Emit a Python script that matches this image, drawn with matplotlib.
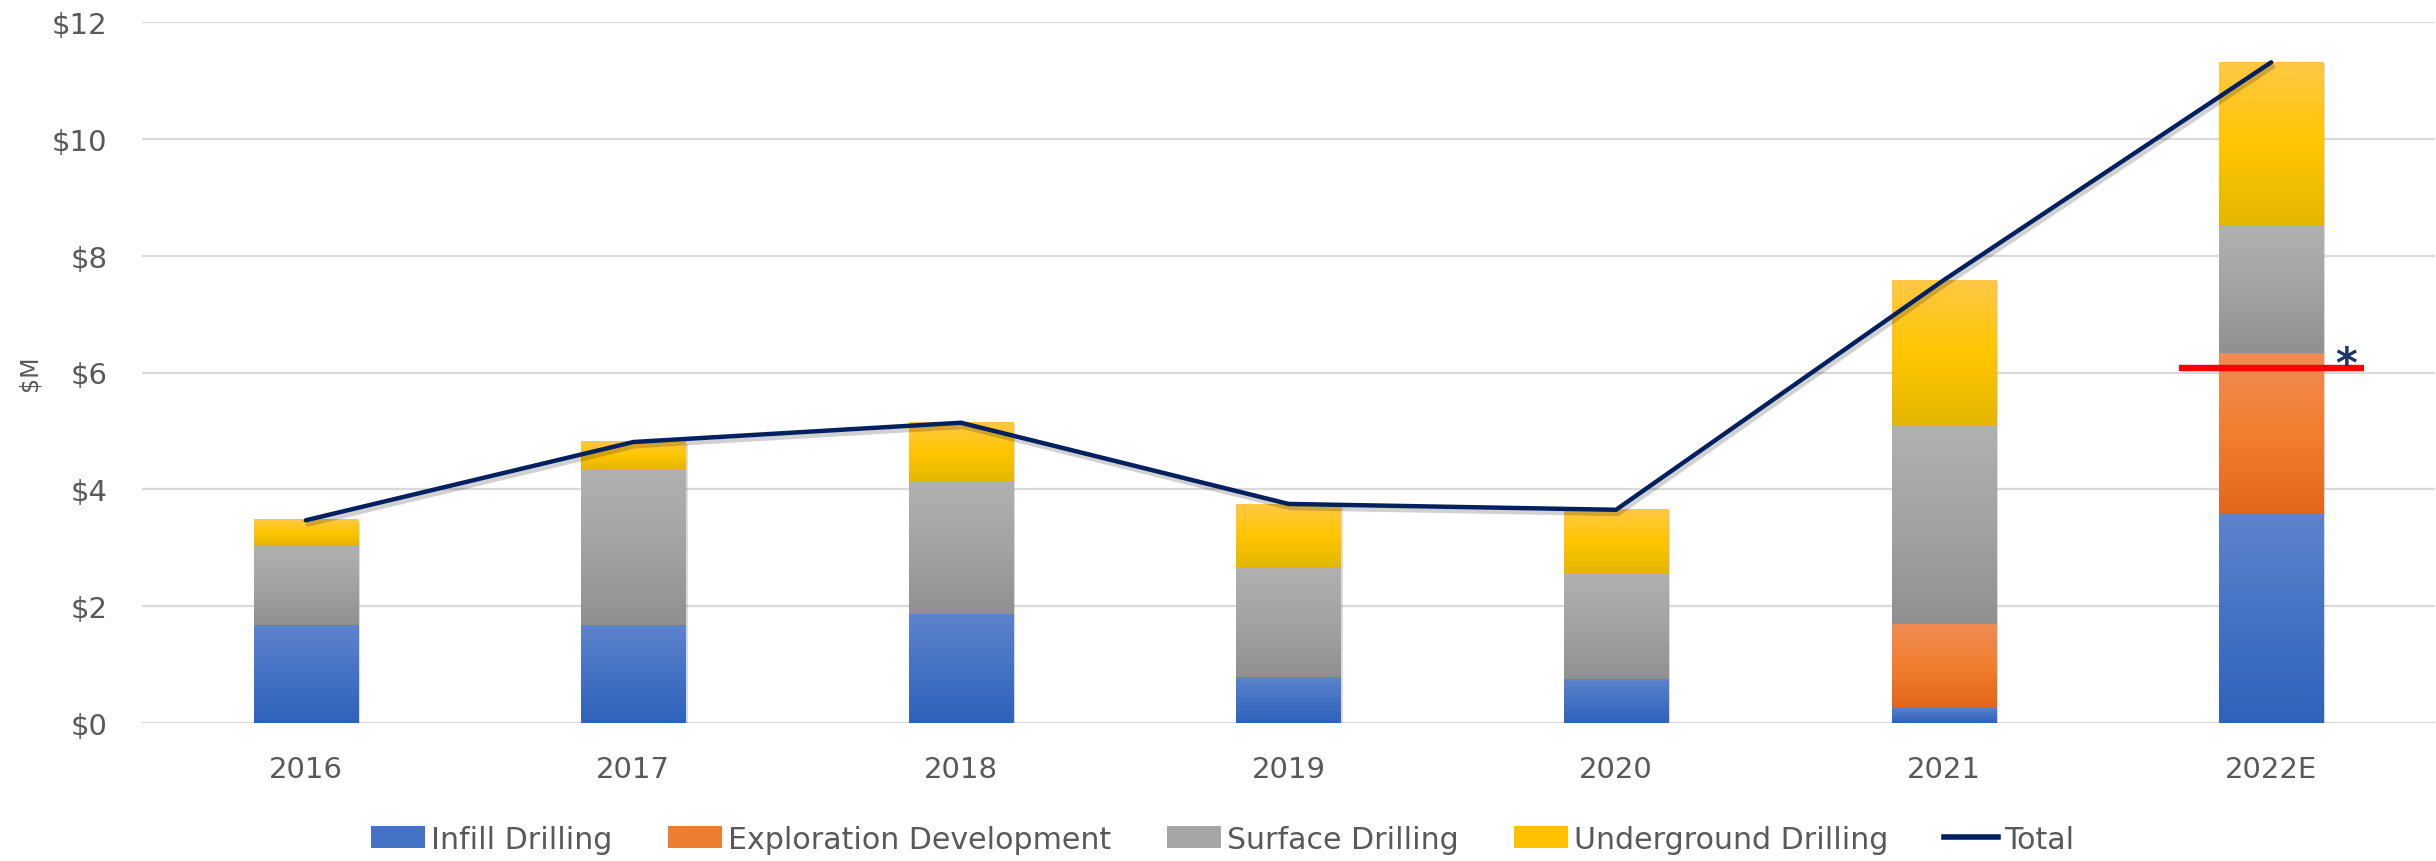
import numpy as np
import matplotlib
matplotlib.use("Agg")
import matplotlib.pyplot as plt
import matplotlib.patheffects as pe
from matplotlib.colors import LinearSegmentedColormap
from matplotlib.patches import Patch
from matplotlib.lines import Line2D

# ---- data ----
years = ["2016", "2017", "2018", "2019", "2020", "2021", "2022E"]
infill = [1.67, 1.68, 1.87, 0.79, 0.76, 0.27, 3.58]
exploration = [0.0, 0.0, 0.0, 0.0, 0.0, 1.42, 2.75]
surface = [1.37, 2.66, 2.26, 1.88, 1.81, 3.41, 2.18]
underground = [0.43, 0.47, 1.01, 1.07, 1.09, 2.48, 2.80]
total = [3.47, 4.81, 5.14, 3.75, 3.65, 7.58, 11.31]
series_names = ["Infill Drilling", "Exploration Development", "Surface Drilling",
                "Underground Drilling", "Total"]
ytick_vals = [0, 2, 4, 6, 8, 10, 12]
ytick_labels = [r"\$0", r"\$2", r"\$4", r"\$6", r"\$8", r"\$10", r"\$12"]
target_year_idx = 6
target_value = 6.08

# ---- style ----
TXT = "#595959"
NAVY = "#002060"
grads = {
    "blue": ["#2F62BC", "#4472C4", "#5E84CC"],
    "orange": ["#E2661A", "#F27E2F", "#F08C55"],
    "gray": ["#909090", "#A3A3A3", "#B1B1B1"],
    "yellow": ["#E4B600", "#FFC600", "#FFC845"],
}
solid = {"blue": "#4472C4", "orange": "#ED7D31", "gray": "#A5A5A5", "yellow": "#FFC000"}

fig = plt.figure(figsize=(24.36, 8.62), dpi=100)
ax = fig.add_axes([142 / 2436, 1 - 724 / 862, (2435 - 142) / 2436, (724 - 23) / 862])

x = np.arange(len(years))
width = 0.318
bottoms = np.zeros(len(years))
stack = [(infill, "blue"), (exploration, "orange"), (surface, "gray"), (underground, "yellow")]
grad_col = np.linspace(0, 1, 256).reshape(-1, 1)
for vals, key in stack:
    bars = ax.bar(x, vals, width, bottom=bottoms, color="none", zorder=1.9,
                  linewidth=0)
    cmap = LinearSegmentedColormap.from_list(key, grads[key])
    for p in bars:
        h = p.get_height()
        if h <= 0:
            continue
        x0, y0, w = p.get_x(), p.get_y(), p.get_width()
        ax.imshow(grad_col, cmap=cmap, extent=(x0, x0 + w, y0, y0 + h),
                  origin="lower", aspect="auto", zorder=2, interpolation="bilinear")
    bottoms = bottoms + np.array(vals)

# soft shadow behind each full stack
ax.bar(x, bottoms, width, color="#c8c8c8", zorder=1.5, linewidth=0,
       path_effects=[pe.SimplePatchShadow(offset=(1.5, -1.5),
                                          shadow_rgbFace="#999999", alpha=0.35),
                     pe.Normal()])

# total line
ax.plot(x, total, color=NAVY, lw=3.2, zorder=4, solid_capstyle="round",
        solid_joinstyle="miter",
        path_effects=[pe.SimpleLineShadow(offset=(1.5, -3), alpha=0.18), pe.Normal()])

# red target marker and asterisk for 2022E
ax.plot([target_year_idx - 0.283, target_year_idx + 0.282], [target_value, target_value],
        color="#FF0000", lw=4.6, zorder=5, solid_capstyle="butt")
ax.text(target_year_idx + 0.228, 5.93, "*", color="#1F3864", fontsize=30,
        fontweight="bold", ha="center", va="baseline", zorder=6)

ax.set_xlim(-0.5, len(years) - 0.5)
ax.set_ylim(0, 12)
ax.set_yticks(ytick_vals)
ax.set_yticklabels(ytick_labels)
ax.set_xticks(x)
ax.set_xticklabels(years)
ax.tick_params(axis="both", length=0, labelsize=21, colors=TXT)
ax.tick_params(axis="y", pad=25)
ax.tick_params(axis="x", pad=23)
for s in ax.spines.values():
    s.set_visible(False)
ax.yaxis.grid(True, color="#D9D9D9", lw=1.6, zorder=0)
ax.set_axisbelow(True)

ax.set_ylabel(r"\$M", fontsize=17, color=TXT)
ax.yaxis.set_label_coords(-0.044, 0.5)

handles = [Patch(facecolor=solid["blue"]), Patch(facecolor=solid["orange"]),
           Patch(facecolor=solid["gray"]), Patch(facecolor=solid["yellow"]),
           Line2D([0], [0], color=NAVY, lw=4)]
leg = fig.legend(handles, series_names, loc="center", bbox_to_anchor=(0.502, 0.0255),
                 ncol=5, frameon=False, fontsize=21.6, labelcolor=TXT,
                 handlelength=1.8, handleheight=0.75, handletextpad=0.2,
                 columnspacing=1.85, borderpad=0)

fig.savefig("out.png", dpi=100)
